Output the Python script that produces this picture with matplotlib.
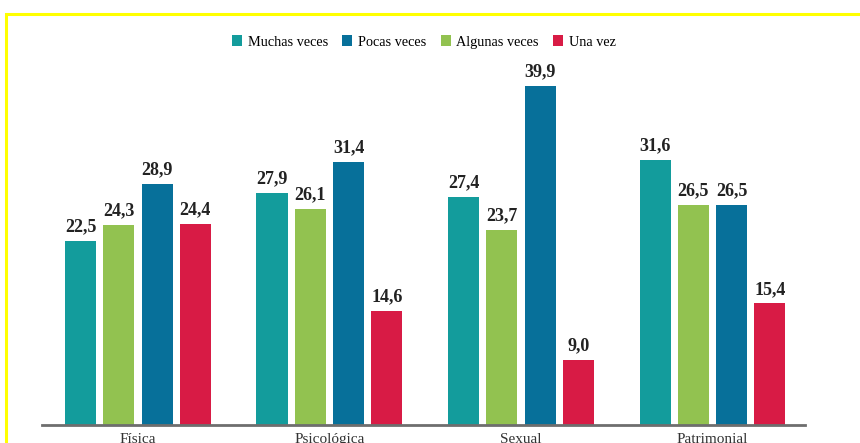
import matplotlib
matplotlib.use("Agg")
import matplotlib.pyplot as plt
from matplotlib.patches import Rectangle, Patch
import numpy as np

categories = ["Física", "Psicológica", "Sexual", "Patrimonial"]
series_names = ["Muchas veces", "Algunas veces", "Pocas veces", "Una vez"]
muchas = [22.5, 27.9, 27.4, 31.6]
algunas = [24.3, 26.1, 23.7, 26.5]
pocas = [28.9, 31.4, 39.9, 26.5]
una_vez = [24.4, 14.6, 9.0, 15.4]
legend_order = ["Muchas veces", "Pocas veces", "Algunas veces", "Una vez"]

colors = {"Muchas veces": "#139c9c", "Algunas veces": "#92c250",
          "Pocas veces": "#07709a", "Una vez": "#d81b45"}

values = {"Muchas veces": muchas, "Algunas veces": algunas,
          "Pocas veces": pocas, "Una vez": una_vez}

fig = plt.figure(figsize=(8.6, 4.43), dpi=100)
ax = fig.add_axes([42/860, 1-425/443, 763/860, 365/443])

x = np.arange(len(categories))
offsets = [-0.3, -0.1, 0.1, 0.3]
width = 0.162
for name, off in zip(series_names, offsets):
    vals = values[name]
    ax.bar(x + off, vals, width=width, color=colors[name], zorder=2)
    for xi, v in zip(x + off, vals):
        ax.annotate(f"{v:.1f}".replace(".", ","), (xi, v), xytext=(0, 4),
                    textcoords="offset points", ha="center", va="bottom",
                    fontsize=13, fontweight="bold", family="Liberation Serif",
                    color="#222222")

ax.set_xlim(-0.501, 3.483)
ax.set_ylim(1.7, 42.85)
for s in ["top", "right", "left"]:
    ax.spines[s].set_visible(False)
ax.spines["bottom"].set_color("#6e6e6e")
ax.spines["bottom"].set_linewidth(2)
ax.spines["bottom"].set_zorder(3)
ax.set_yticks([])
ax.set_xticks(x)
ax.set_xticklabels(categories, family="Liberation Serif", fontsize=11, color="#333333")
ax.tick_params(axis="x", length=0, pad=6)

handles = [Patch(facecolor=colors[n], edgecolor="none") for n in legend_order]
fig.legend(handles, legend_order, loc="center", bbox_to_anchor=(424/860, 1-42/443),
           ncol=4, frameon=False, prop={"family": "Liberation Serif", "size": 10.3},
           handlelength=0.7, handleheight=0.7, handletextpad=0.4, columnspacing=1.0)

fig.patches.append(Rectangle((6/860, -0.2), 1.2, 1.2 - 14/443, transform=fig.transFigure,
                             fill=False, edgecolor="#ffff00", linewidth=2.2, zorder=10))

fig.savefig("out.png", dpi=100)
